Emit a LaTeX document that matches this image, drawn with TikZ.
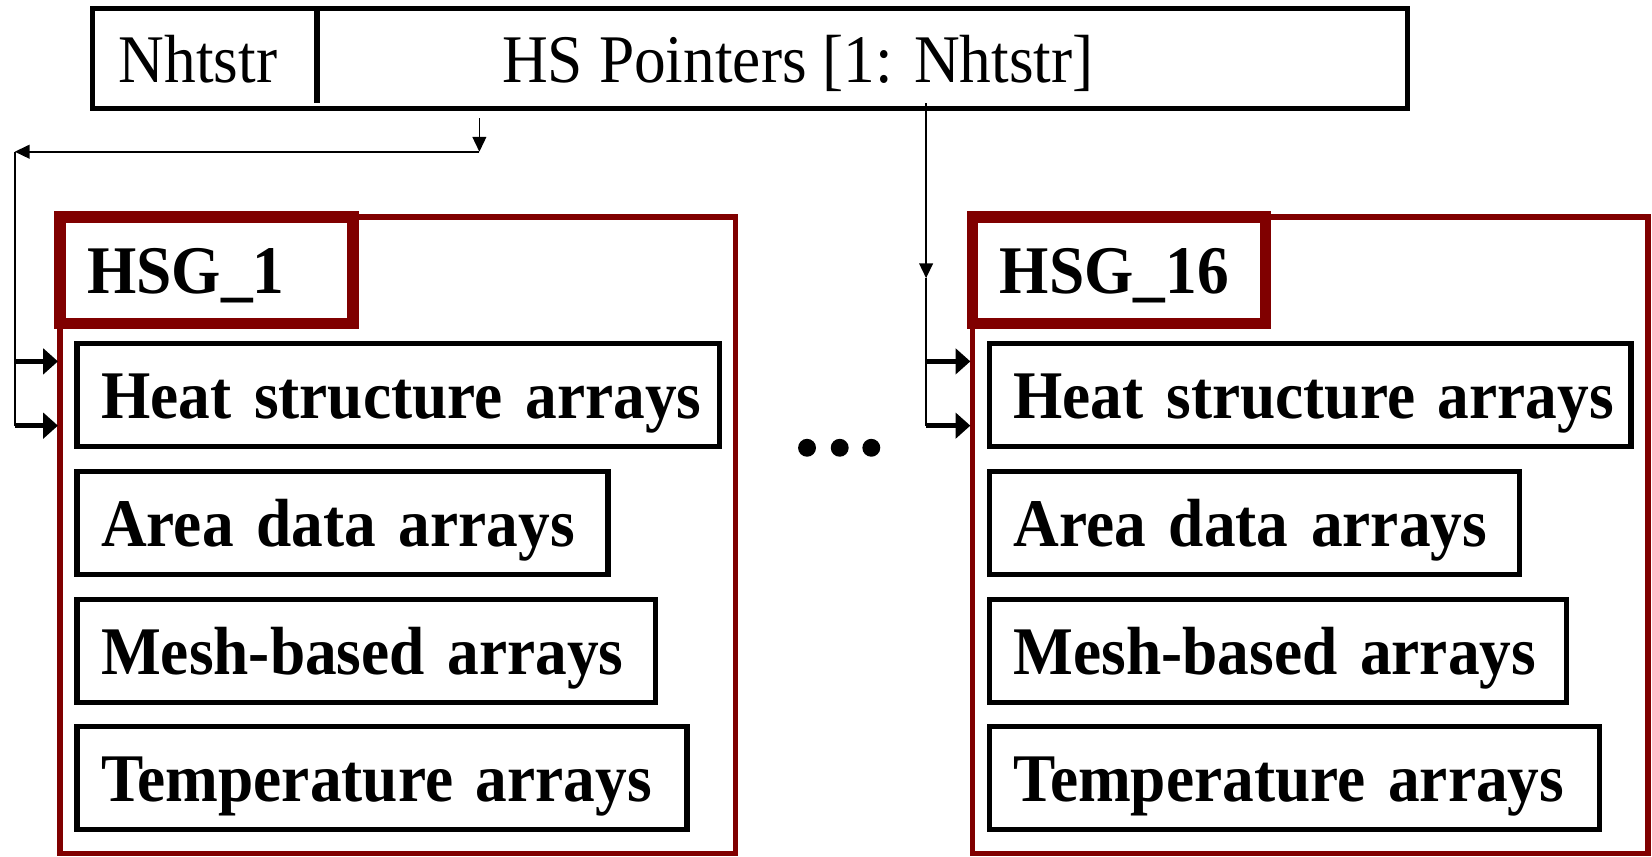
\documentclass[tikz,border=0pt]{standalone}
\usepackage{fontspec}
\setmainfont{Liberation Serif}[FakeStretch=0.93]
\usetikzlibrary{arrows.meta}
\definecolor{hsgred}{RGB}{128,0,0}
\begin{document}
\begin{tikzpicture}[font=\fontsize{18.4}{22}\selectfont,
	hdrbox/.style={draw, line width=.05cm, outer sep=0pt, minimum width=12.48cm, minimum height=.95cm},
	hsgbox/.style={draw=hsgred, line width=.055cm, outer sep=0pt, minimum width=6.41cm, minimum height=6.04cm},
	hsglabel/.style={draw=hsgred, line width=.11cm, outer sep=0pt, anchor=west, font=\fontsize{18.4}{22}\selectfont\bfseries, inner xsep=.26cm, text width=2.26cm, minimum height=1.01cm, text height=.48cm, text depth=.04cm, align=left},
	arrbox/.style={draw, line width=.05cm, outer sep=0pt, anchor=west, font=\fontsize{18.4}{22}\selectfont\bfseries, inner xsep=.23cm, text width=#1, minimum height=.98cm, text height=.48cm, text depth=.04cm, align=left},
	ptr/.style={line width=.016cm, -{Triangle[length=.14cm, width=.13cm]}},
	branch/.style={line width=.045cm, -{Triangle[length=.14cm, width=.24cm]}}]
	\useasboundingbox (0,0) rectangle (15.68,-8.13);
	
	% header with the pointer array
	\node[hdrbox] (hdr) at (7.12,-.555) {};
	\draw[line width=.06cm] (3.01,-.08) -- (3.01,-.98);
	\node[anchor=base west, inner sep=0] (nh) at (1.12,-.78) {Nhtstr};
	\node[anchor=base west, inner sep=0] (ptrs) at (4.76,-.78) {HS Pointers [1: Nhtstr]};
	
	% first group
	\node[hsgbox] (hsg1) at (3.775,-5.08) {};
	\node[hsglabel] (lbl1) at (.57,-2.565) {HSG\_1};
	\node[arrbox=5.64cm] (heat1) at (.73,-3.75) {\mbox{Heat structure arrays}};
	\node[arrbox=4.58cm] (area1) at (.73,-4.965) {Area data arrays};
	\node[arrbox=5.03cm] (mesh1) at (.73,-6.18) {Mesh-based arrays};
	\node[arrbox=5.33cm] (temp1) at (.73,-7.385) {Temperature arrays};
	
	% last group
	\node[hsgbox] (hsg16) at (12.435,-5.08) {};
	\node[hsglabel] (lbl16) at (9.23,-2.565) {HSG\_16};
	\node[arrbox=5.63cm] (heat16) at (9.39,-3.75) {\mbox{Heat structure arrays}};
	\node[arrbox=4.57cm] (area16) at (9.39,-4.965) {Area data arrays};
	\node[arrbox=5.02cm] (mesh16) at (9.39,-6.18) {Mesh-based arrays};
	\node[arrbox=5.33cm] (temp16) at (9.39,-7.385) {Temperature arrays};
	
	\fill (7.66,-4.25) circle(.085);
	\fill (7.97,-4.25) circle(.085);
	\fill (8.27,-4.25) circle(.085);
	
	% pointer to HSG_1
	\coordinate (pl) at (4.55,-1.12);
	\coordinate (ql) at (4.55,-1.44);
	\coordinate (rl) at (.14,-1.44);
	\coordinate (b1) at (.55,-3.43);
	\coordinate (b2) at (.55,-4.04);
	\draw[ptr] (pl) -- (ql);
	\draw[ptr] (ql) -- (rl);
	\draw[line width=.016cm] (rl) -- (rl |- b2);
	\draw[branch] (rl |- b1) -- (b1);
	\draw[branch] (rl |- b2) -- (b2);
	
	% pointer to HSG_16
	\coordinate (pr) at (8.79,-.98);
	\coordinate (mr) at (8.79,-2.64);
	\coordinate (c1) at (9.21,-3.43);
	\coordinate (c2) at (9.21,-4.04);
	\draw[ptr] (pr) -- (mr);
	\draw[line width=.016cm] (mr) -- (pr |- c2);
	\draw[branch] (pr |- c1) -- (c1);
	\draw[branch] (pr |- c2) -- (c2);
	
\end{tikzpicture}
\end{document}
